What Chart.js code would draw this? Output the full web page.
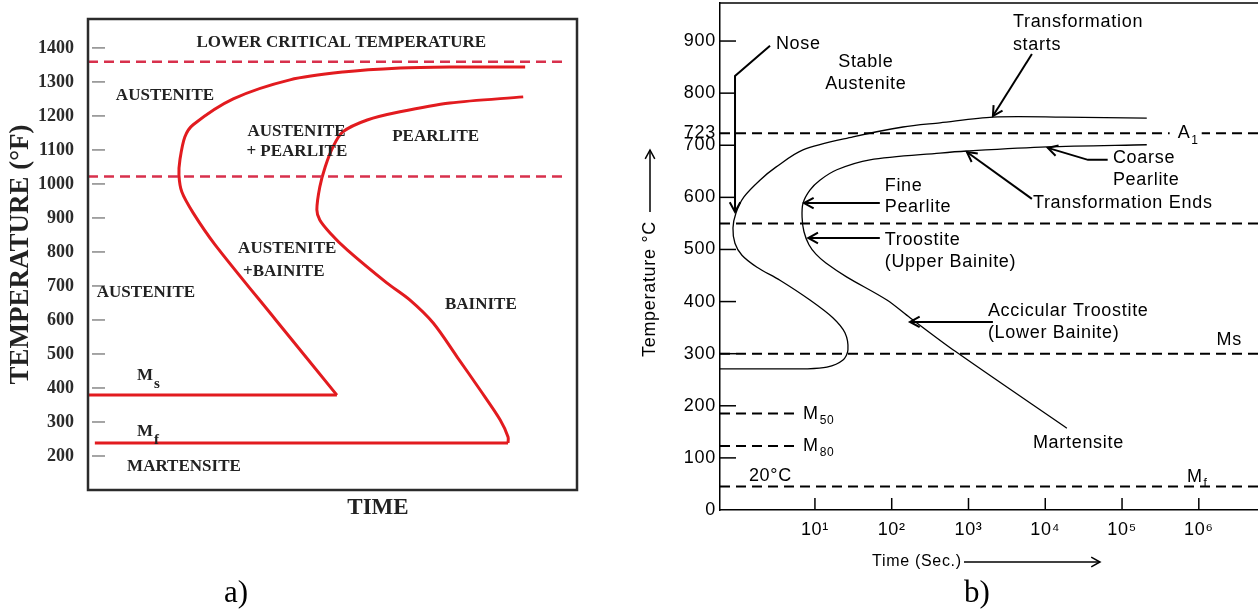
<!DOCTYPE html>
<html>
<head>
<meta charset="utf-8">
<script src="https://cdn.jsdelivr.net/npm/chart.js@4.4.1/dist/chart.umd.min.js"></script>
<style>
  html, body { margin: 0; padding: 0; background: #fff; }
  #wrap { position: relative; width: 1258px; height: 609px; overflow: hidden; }
  #boxA { position: absolute; left: 0; top: 0; width: 620px; height: 609px; }
  #boxB { position: absolute; left: 620px; top: 0; width: 638px; height: 609px; }
  .tag { position: absolute; font-family: "Liberation Serif", serif; font-size: 31px; color: #000; line-height: 36px; }
</style>
</head>
<body>
<div id="wrap">
  <div id="boxA"><canvas id="ttA"></canvas></div>
  <div id="boxB"><canvas id="ttB"></canvas></div>
  <div class="tag" style="left:224px; top:574px">a)</div>
  <div class="tag" style="left:964px; top:574px">b)</div>
</div>
<script>
// ---- panel a) : schematic TTT, time in arbitrary units (0..100), temperature in °F
const TEMP_TICKS_F = [200, 300, 400, 500, 600, 700, 800, 900, 1000, 1100, 1200, 1300, 1400];
const LOWER_CRIT_F = 1359;
const MID_DASH_F = 1022;
const MS_F = 379;
const MF_F = 238;
const START_TIME_A = [89.4, 74.0, 63.8, 52.1, 41.3, 29.7, 21.5, 19.8, 18.8, 18.6, 19.2, 21.5, 26.0, 38.4, 50.9];
const START_TEMP_A = [1344, 1344, 1341, 1329, 1306, 1250, 1174, 1138, 1071, 1026, 976, 915, 821, 600, 379];
const END_TIME_A = [89.0, 74.0, 63.8, 57.1, 52.1, 50.1, 48.5, 47.4, 46.8, 47.4, 49.5, 53.0, 61.1, 65.8, 70.6, 75.5, 80.2, 84.3, 85.9, 85.9];
const END_TEMP_A = [1256, 1238, 1212, 1188, 1153, 1109, 1050, 991, 924, 894, 856, 806, 709, 659, 591, 491, 394, 306, 256, 238];

// ---- panel b) : TTT of eutectoid steel, time in seconds (log), temperature in °C
const TEMP_TICKS_C = [0, 100, 200, 300, 400, 500, 600, 700, 723, 800, 900];
const TIME_TICKS_S = [1e1, 1e2, 1e3, 1e4, 1e5, 1e6];
const TIME_TICK_LABELS = ["10¹", "10²", "10³", "10⁴", "10⁵", "10⁶"];
const A1_C = 723;
const NOSE_LINE_C = 550;
const MS_C = 300;
const M50_C = 185;
const M80_C = 123;
const MF_C = 45;
const START_TIME_B = [2.1e5, 1.69e4, 2080, 425, 140, 31.3, 6.98, 3.10, 1.92, 1.19, 0.936, 0.856, 0.908, 1.12, 1.76, 3.50, 8.61, 17.1, 24.6, 26.9, 23.2, 14.3, 7.87, 0.58];
const START_TEMP_B = [752, 754, 754, 743, 735, 716, 691, 658, 633, 601, 570, 541, 512, 489, 466, 441, 403, 369, 340, 307, 288, 274, 271, 271];
const END_TIME_B = [2.1e5, 1.05e4, 953, 425, 52, 19.3, 11.6, 8.6, 7.0, 6.8, 7.2, 8.36, 10.3, 13.9, 26.1, 86.6, 173, 665, 1.91e4];
const END_TEMP_B = [701, 697, 689, 685, 672, 653, 633, 614, 589, 562, 534, 509, 491, 474, 447, 403, 369, 305, 157];

const T_MIN_B = 0.58, T_MAX_B = 5.9e6;

const NOTES_A = [
  { text: "LOWER CRITICAL TEMPERATURE", x: 51.8, y: 1415, align: "center" },
  { text: "AUSTENITE", x: 5.7, y: 1259 },
  { text: "AUSTENITE", x: 32.6, y: 1153 },
  { text: "+ PEARLITE", x: 32.4, y: 1094 },
  { text: "PEARLITE", x: 62.2, y: 1138 },
  { text: "AUSTENITE", x: 30.7, y: 809 },
  { text: "+BAINITE", x: 31.7, y: 741 },
  { text: "AUSTENITE", x: 1.8, y: 679 },
  { text: "BAINITE", x: 73.0, y: 644 },
  { text: "M", sub: "s", x: 10.0, y: 435 },
  { text: "M", sub: "f", x: 10.0, y: 271 },
  { text: "MARTENSITE", x: 8.0, y: 168 },
];

const NOTES_B = [
  { text: "Nose", x: 3.1, y: 894 },
  { text: "Stable", x: 46, y: 860, align: "center" },
  { text: "Austenite", x: 46, y: 818, align: "center" },
  { text: "Transformation", x: 3790, y: 937 },
  { text: "starts", x: 3790, y: 893 },
  { text: "A", sub: "1", x: 5.3e5, y: A1_C, knock: true },
  { text: "Coarse", x: 7.6e4, y: 676 },
  { text: "Pearlite", x: 7.6e4, y: 633 },
  { text: "Transformation Ends", x: 6900, y: 589 },
  { text: "Fine", x: 81, y: 622 },
  { text: "Pearlite", x: 81, y: 582 },
  { text: "Troostite", x: 81, y: 518 },
  { text: "(Upper Bainite)", x: 81, y: 476 },
  { text: "Accicular Troostite", x: 1790, y: 382 },
  { text: "(Lower Bainite)", x: 1790, y: 340 },
  { text: "Ms", x: 1.7e6, y: 326 },
  { text: "Martensite", x: 6900, y: 129 },
  { text: "M", sub: "f", x: 7e5, y: 63 },
  { text: "M", sub: "50", x: 7.0, y: M50_C },
  { text: "M", sub: "80", x: 7.0, y: M80_C },
  { text: "20°C", x: 1.38, y: 65 },
];

// leader lines, arrow head on the last point
const LEADERS_B = [
  [[2.6, 891], [0.91, 833], [0.91, 572]],
  [[6700, 875], [2080, 756]],
  [[6.5e4, 672], [3.6e4, 672], [1.08e4, 695]],
  [[6700, 597], [953, 687]],
  [[70, 589], [7.2, 589]],
  [[70, 522], [8.2, 522]],
  [[2080, 361], [173, 361]],
];

const pts = (xs, ys) => xs.map((x, i) => ({ x, y: ys[i] }));
const flat = (x0, x1, v) => [{ x: x0, y: v }, { x: x1, y: v }];

function curve(data, color, width, tension) {
  return { data, borderColor: color, borderWidth: width, tension, pointRadius: 0, fill: false };
}
function dashed(data, color, width, dash) {
  return { data, borderColor: color, borderWidth: width, borderDash: dash, tension: 0, pointRadius: 0, fill: false };
}

function arrowHead(ctx, x1, y1, x2, y2, size) {
  const a = Math.atan2(y2 - y1, x2 - x1);
  ctx.beginPath();
  ctx.moveTo(x2 - size * Math.cos(a - 0.5), y2 - size * Math.sin(a - 0.5));
  ctx.lineTo(x2, y2);
  ctx.lineTo(x2 - size * Math.cos(a + 0.5), y2 - size * Math.sin(a + 0.5));
  ctx.stroke();
}

function drawNote(ctx, n, px, py, font, subFont, subDy, knock) {
  ctx.font = font;
  ctx.textAlign = n.align || "left";
  const w = ctx.measureText(n.text).width;
  let sw = 0;
  if (n.sub) { ctx.font = subFont; sw = ctx.measureText(n.sub).width; ctx.font = font; }
  if (knock) {
    ctx.fillStyle = "#fff";
    ctx.fillRect(px - 8, py - 10, w + sw + 12, 20);
    ctx.fillStyle = "#000";
  }
  ctx.fillText(n.text, px, py);
  if (n.sub) {
    ctx.font = subFont;
    ctx.textAlign = "left";
    ctx.fillText(n.sub, px + w + 1, py + subDy);
  }
}

// fixed axis boxes so the plot areas land where the original has them
function fixY(width) {
  return s => { s.width = width; s.paddingTop = 0; s.paddingBottom = 0; };
}
function fixX(height) {
  return s => { s.height = height; s.paddingLeft = 0; s.paddingRight = 0; };
}

const decoA = {
  id: "decoA",
  afterDatasetsDraw(chart) {
    const { ctx, chartArea: a, scales: { x, y } } = chart;
    ctx.save();
    ctx.strokeStyle = "#2b2b2b";
    ctx.lineWidth = 2.5;
    ctx.strokeRect(a.left, a.top, a.right - a.left, a.bottom - a.top);
    ctx.strokeStyle = "#888";
    ctx.lineWidth = 1.5;
    TEMP_TICKS_F.forEach(v => {
      const py = y.getPixelForValue(v);
      ctx.beginPath();
      ctx.moveTo(a.left + 4, py);
      ctx.lineTo(a.left + 17, py);
      ctx.stroke();
    });
    ctx.fillStyle = "#222";
    ctx.textBaseline = "middle";
    NOTES_A.forEach(n => {
      drawNote(ctx, n, x.getPixelForValue(n.x), y.getPixelForValue(n.y),
        'bold 17px "Liberation Serif"', 'bold 15px "Liberation Serif"', 8, false);
    });
    ctx.font = 'bold 23px "Liberation Serif"';
    ctx.textAlign = "center";
    ctx.fillText("TIME", 378, 508);
    ctx.restore();
  }
};

const decoB = {
  id: "decoB",
  beforeDraw(chart) {
    chart.ctx.letterSpacing = "0.7px";
  },
  afterDatasetsDraw(chart) {
    const { ctx, chartArea: a, scales: { x, y } } = chart;
    ctx.save();
    ctx.strokeStyle = "#000";
    ctx.lineWidth = 1.5;
    ctx.beginPath();
    ctx.moveTo(a.left, a.top);
    ctx.lineTo(a.right, a.top);
    ctx.stroke();
    // inward tick marks
    TEMP_TICKS_C.filter(v => v !== 0 && v !== A1_C).forEach(v => {
      const py = y.getPixelForValue(v);
      ctx.beginPath();
      ctx.moveTo(a.left, py);
      ctx.lineTo(a.left + 16, py);
      ctx.stroke();
    });
    TIME_TICKS_S.forEach(v => {
      const px = x.getPixelForValue(v);
      ctx.beginPath();
      ctx.moveTo(px, a.bottom);
      ctx.lineTo(px, a.bottom - 12);
      ctx.stroke();
    });
    // leaders
    ctx.lineWidth = 2;
    LEADERS_B.forEach(path => {
      const p = path.map(([t, T]) => [x.getPixelForValue(t), y.getPixelForValue(T)]);
      ctx.beginPath();
      ctx.moveTo(p[0][0], p[0][1]);
      p.slice(1).forEach(q => ctx.lineTo(q[0], q[1]));
      ctx.stroke();
      const n = p.length;
      arrowHead(ctx, p[n - 2][0], p[n - 2][1], p[n - 1][0], p[n - 1][1], 11);
    });
    ctx.fillStyle = "#000";
    ctx.textBaseline = "middle";
    NOTES_B.forEach(n => {
      drawNote(ctx, n, x.getPixelForValue(n.x), y.getPixelForValue(n.y),
        '18px "Liberation Sans"', '12px "Liberation Sans"', 7, n.knock);
    });
    // axis titles
    ctx.font = '18px "Liberation Sans"';
    ctx.textAlign = "center";
    ctx.save();
    ctx.translate(a.left - 70, 289);
    ctx.rotate(-Math.PI / 2);
    ctx.fillText("Temperature °C", 0, 0);
    ctx.restore();
    ctx.lineWidth = 1.5;
    ctx.beginPath();
    ctx.moveTo(a.left - 70, 212);
    ctx.lineTo(a.left - 70, 150);
    ctx.stroke();
    arrowHead(ctx, a.left - 70, 212, a.left - 70, 150, 10);
    ctx.textAlign = "left";
    ctx.font = '16px "Liberation Sans"';
    ctx.fillText("Time (Sec.)", a.left + 152, 562);
    ctx.beginPath();
    ctx.moveTo(a.left + 244, 562);
    ctx.lineTo(a.left + 380, 562);
    ctx.stroke();
    arrowHead(ctx, a.left + 244, 562, a.left + 380, 562, 10);
    ctx.restore();
  }
};

const RED = "#e21b1f";
const RED_DASH = "#d8304c";

new Chart(document.getElementById("ttA"), {
  type: "line",
  data: {
    datasets: [
      dashed(flat(0, 98, LOWER_CRIT_F), RED_DASH, 2.5, [10, 6]),
      dashed(flat(0, 98, MID_DASH_F), RED_DASH, 2.5, [10, 6]),
      curve(pts(START_TIME_A, START_TEMP_A), RED, 3, 0.3),
      curve(flat(START_TIME_A[START_TIME_A.length - 1], 0, MS_F), RED, 3, 0),
      curve(pts(END_TIME_A, END_TEMP_A), RED, 3, 0.3),
      curve(flat(END_TIME_A[END_TIME_A.length - 1], 1.4, MF_F), RED, 3, 0),
    ]
  },
  options: {
    animation: false,
    responsive: true,
    maintainAspectRatio: false,
    devicePixelRatio: 1,
    events: [],
    layout: { padding: { left: 0, top: 19, right: 43, bottom: 0 } },
    plugins: { legend: { display: false }, tooltip: { enabled: false } },
    scales: {
      x: {
        type: "linear", min: 0, max: 100,
        ticks: { display: false },
        grid: { display: false, drawTicks: false },
        border: { display: false },
        afterFit: fixX(119)
      },
      y: {
        type: "linear", min: 100, max: 1485,
        afterBuildTicks: s => { s.ticks = TEMP_TICKS_F.map(v => ({ value: v })); },
        ticks: {
          autoSkip: false, padding: 14, color: "#2a2a2a",
          font: { family: "Liberation Serif", size: 18, weight: "bold" },
          callback: v => String(v)
        },
        grid: { display: false, drawTicks: false },
        border: { display: false },
        title: {
          display: true, text: "TEMPERATURE (°F)", color: "#222",
          font: { family: "Liberation Serif", size: 27, weight: "bold" },
          padding: { top: 5, bottom: 0 }
        },
        afterFit: fixY(88)
      }
    }
  },
  plugins: [decoA]
});

new Chart(document.getElementById("ttB"), {
  type: "line",
  data: {
    datasets: [
      dashed(flat(T_MIN_B, T_MAX_B, A1_C), "#000", 2, [10, 6]),
      dashed(flat(T_MIN_B, T_MAX_B, NOSE_LINE_C), "#000", 2, [10, 6]),
      dashed(flat(T_MIN_B, T_MAX_B, MS_C), "#000", 2, [10, 6]),
      dashed(flat(T_MIN_B, 5.5, M50_C), "#000", 2, [10, 6]),
      dashed(flat(T_MIN_B, 5.5, M80_C), "#000", 2, [10, 6]),
      dashed(flat(T_MIN_B, T_MAX_B, MF_C), "#000", 2, [10, 6]),
      curve(pts(START_TIME_B, START_TEMP_B), "#000", 1.3, 0.3),
      curve(pts(END_TIME_B, END_TEMP_B), "#000", 1.3, 0.3),
    ]
  },
  options: {
    animation: false,
    responsive: true,
    maintainAspectRatio: false,
    devicePixelRatio: 1,
    events: [],
    layout: { padding: { left: 0, top: 3, right: 0, bottom: 0 } },
    plugins: { legend: { display: false }, tooltip: { enabled: false } },
    scales: {
      x: {
        type: "logarithmic", min: T_MIN_B, max: T_MAX_B,
        afterBuildTicks: s => { s.ticks = TIME_TICKS_S.map(v => ({ value: v })); },
        ticks: {
          autoSkip: false, maxRotation: 0, padding: 9, color: "#000",
          font: { family: "Liberation Sans", size: 18 },
          callback: v => TIME_TICK_LABELS[TIME_TICKS_S.indexOf(v)]
        },
        grid: { display: false, drawTicks: false },
        border: { display: true, color: "#000", width: 1.5 },
        afterFit: fixX(99)
      },
      y: {
        type: "linear", min: 0, max: 973,
        afterBuildTicks: s => { s.ticks = TEMP_TICKS_C.map(v => ({ value: v })); },
        ticks: {
          autoSkip: false, padding: 4, color: "#000",
          font: { family: "Liberation Sans", size: 18 },
          callback: v => String(v)
        },
        grid: { display: false, drawTicks: false },
        border: { display: true, color: "#000", width: 1.5 },
        afterFit: fixY(100)
      }
    }
  },
  plugins: [decoB]
});
</script>
</body>
</html>
